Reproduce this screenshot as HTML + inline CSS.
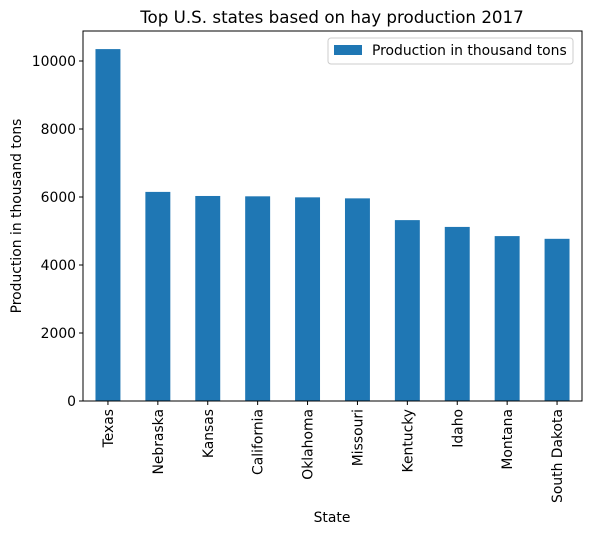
<!DOCTYPE html>
<html><head><meta charset="utf-8"><style>
body{margin:0;background:#fff;font-family:"DejaVu Sans","Liberation Sans",sans-serif;}
svg text{font-family:"DejaVu Sans","Liberation Sans",sans-serif;}
</style></head><body>
<svg id="chart" width="589" height="535" xmlns="http://www.w3.org/2000/svg">
<text x="332" y="23" font-size="16.7" text-anchor="middle">Top U.S. states based on hay production 2017</text>
<g id="bars"></g>
<g id="yaxis"></g>
<g id="xaxis"></g>
<rect x="83" y="31" width="499" height="370" fill="none" stroke="#000" stroke-width="1"/>
<text x="332" y="522" font-size="13.9" text-anchor="middle">State</text>
<text transform="translate(21,216) rotate(-90)" font-size="13.9" text-anchor="middle">Production in thousand tons</text>
<g>
<rect x="328" y="38" width="245" height="26" fill="#fff" stroke="#ccc" rx="3"/>
<rect x="334" y="45" width="28" height="10" fill="#1f77b4"/>
<text x="372" y="55" font-size="13.9">Production in thousand tons</text>
</g>
</svg>
<script>
const categories=["Texas","Nebraska","Kansas","California","Oklahoma","Missouri","Kentucky","Idaho","Montana","South Dakota"];
const values=[10350,6150,6030,6020,5990,5960,5320,5120,4850,4770];
const yTicks=[0,2000,4000,6000,8000,10000];
const NS="http://www.w3.org/2000/svg";
const L=83,R=582,T=31,B=401;
const y=v=>B-v*(340/10000);
const step=(R-L)/categories.length;
const x=i=>L+step*(i+0.5);
const bars=document.getElementById('bars'),ya=document.getElementById('yaxis'),xa=document.getElementById('xaxis');
function mk(t,a){const e=document.createElementNS(NS,t);for(const k in a)e.setAttribute(k,a[k]);return e;}
categories.forEach((c,i)=>{
 const r=mk('rect',{x:x(i)-step/4,y:y(values[i]),width:step/2,height:B-y(values[i]),fill:'#1f77b4'});
 
 
 bars.appendChild(r);
 xa.appendChild(mk('line',{x1:x(i),x2:x(i),y1:B,y2:B+4,stroke:'#000'}));
 const t=mk('text',{transform:`translate(${x(i)+5},${B+8}) rotate(-90)`,'font-size':13.9,'text-anchor':'end'});
 t.textContent=c;
 
 
 xa.appendChild(t);
});
yTicks.forEach(v=>{
 ya.appendChild(mk('line',{x1:L-4,x2:L,y1:y(v),y2:y(v),stroke:'#000'}));
 const t=mk('text',{x:L-7,y:y(v)+5,'font-size':13.9,'text-anchor':'end'});
 t.textContent=v;
 
 
 ya.appendChild(t);
});
</script>
</body></html>
